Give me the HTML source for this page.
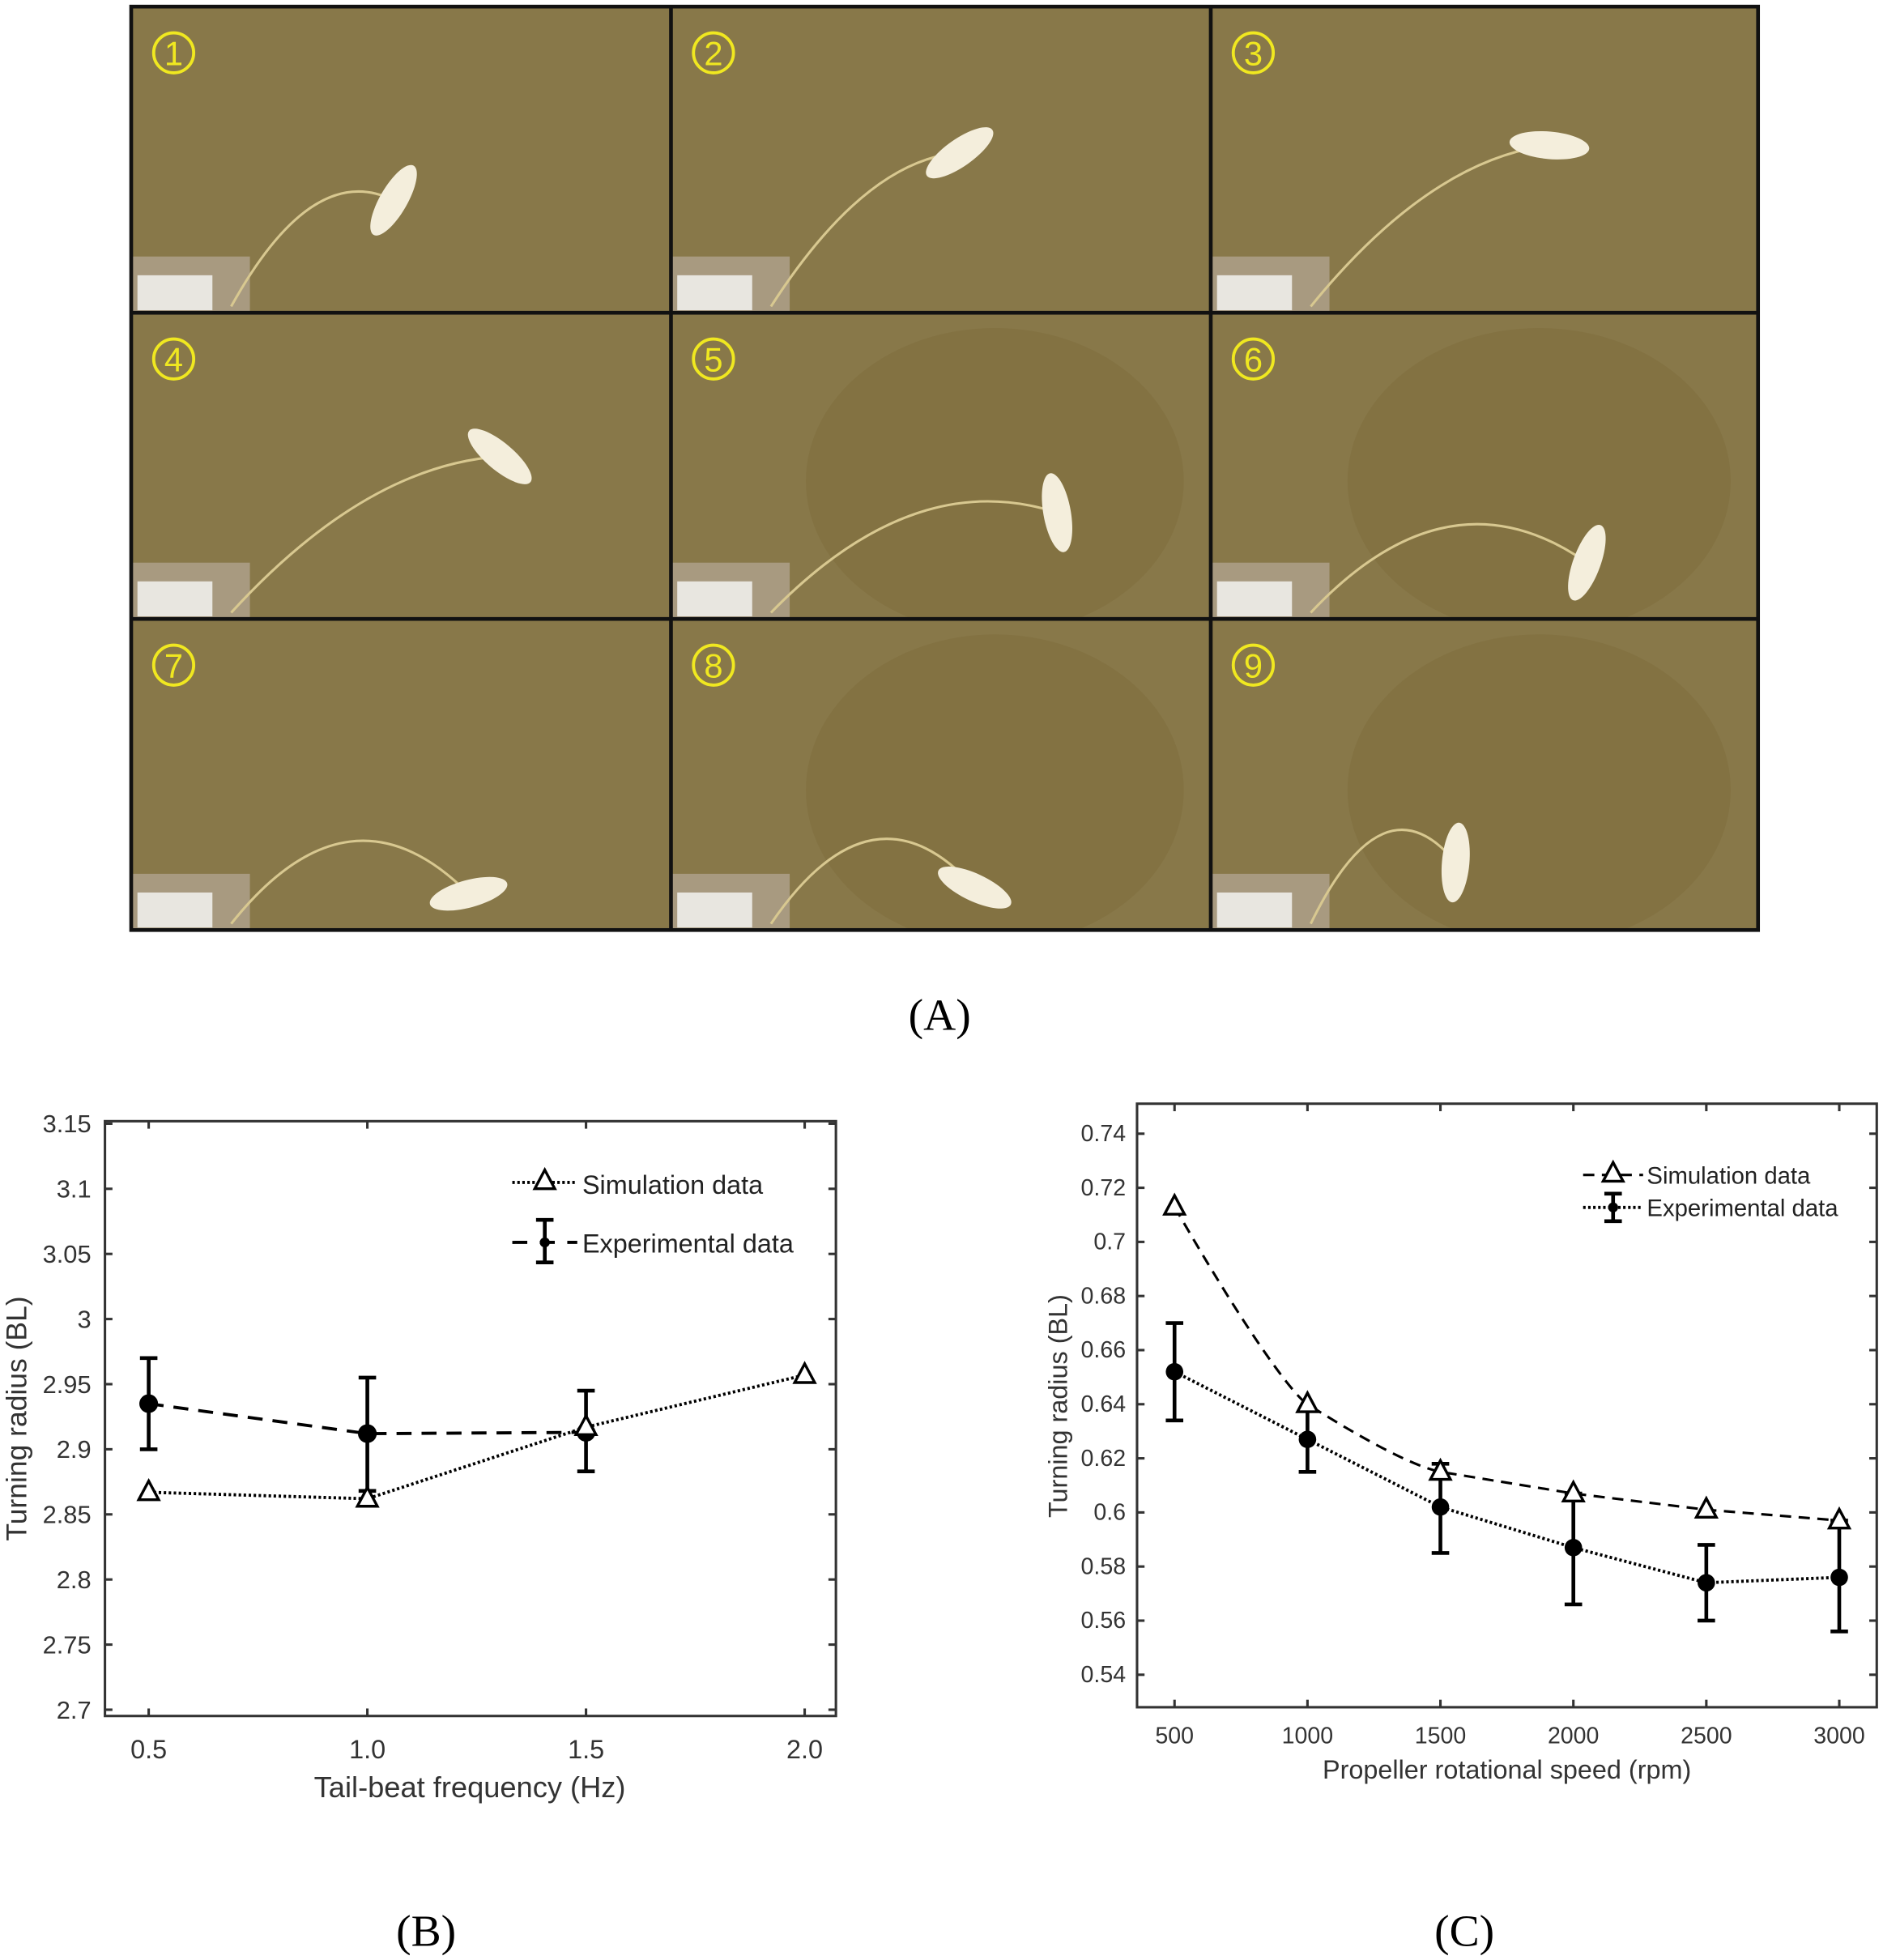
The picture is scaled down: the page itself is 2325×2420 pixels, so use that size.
<!DOCTYPE html>
<html><head><meta charset="utf-8"><style>
html,body{margin:0;padding:0;background:#fff;}
svg{display:block;}
text{font-family:"Liberation Sans",Arial,sans-serif;}
</style></head><body>
<svg id="s" width="2325" height="2420" viewBox="0 0 1507 1568" xmlns="http://www.w3.org/2000/svg">
</svg>
<script>
const s=document.getElementById('s');let h='';
const cx=[105,537,969,1407], ry=[5,250,495,744];
const fish=[[315,160,-60],[768,122,-35],[1240,116,5],[400,365,40],[846,410,80],[1270,450,-70],[375,715,-15],[780,710,25],[1165,690,95]];
let k=0;
for(let r=0;r<3;r++)for(let c=0;c<3;c++){
 const x=cx[c],y=ry[r],w=cx[c+1]-x,hh=ry[r+1]-y;
 h+=`<clipPath id="c${k}"><rect x="${x}" y="${y}" width="${w}" height="${hh}"/></clipPath><g clip-path="url(#c${k})">`;
 h+=`<rect x="${x}" y="${y}" width="${w}" height="${hh}" fill="#887849"/>`;
 if(r>0&&c>0) h+=`<ellipse cx="${x+w*0.6}" cy="${y+hh*0.55}" rx="${w*0.35}" ry="${hh*0.5}" fill="#7d6b3c" opacity="0.5"/>`;
 h+=`<rect x="${x}" y="${y+hh-45}" width="95" height="45" fill="#a89a80"/><rect x="${x+5}" y="${y+hh-30}" width="60" height="28" fill="#e8e6e0"/>`;
 const f=fish[k];
 h+=`<path d="M${x+80} ${y+hh-5} Q${(x+80+f[0])/2} ${y+hh*0.5} ${f[0]} ${f[1]}" stroke="#d8c890" stroke-width="2" fill="none"/>`;
 h+=`<ellipse cx="${f[0]}" cy="${f[1]}" rx="32" ry="11" fill="#f4eedc" transform="rotate(${f[2]} ${f[0]} ${f[1]})"/>`;
 h+=`<circle cx="${x+34}" cy="${y+37}" r="16" fill="none" stroke="#f0e820" stroke-width="2.5"/><text x="${x+34}" y="${y+47}" font-size="27" fill="#f0e820" text-anchor="middle">${k+1}</text></g>`;
 k++;
}
h+=`<g stroke="#111" stroke-width="3" fill="none"><rect x="105" y="5" width="1302" height="739"/>`;
for(const x of [537,969])h+=`<line x1="${x}" y1="5" x2="${x}" y2="744"/>`;
for(const y of [250,495])h+=`<line x1="105" y1="${y}" x2="1407" y2="${y}"/>`;
h+=`</g>`;
h+=`<text x="752" y="824" font-size="36" text-anchor="middle" style="font-family:'Liberation Serif',serif">(A)</text>`;
h+=`<text x="341" y="1557" font-size="36" text-anchor="middle" style="font-family:'Liberation Serif',serif">(B)</text>`;
h+=`<text x="1172" y="1557" font-size="36" text-anchor="middle" style="font-family:'Liberation Serif',serif">(C)</text>`;
function tri(x,y){return `<path d="M${x} ${y-9} L${x+8} ${y+6} L${x-8} ${y+6} Z" fill="#fff" stroke="#000" stroke-width="2.2"/>`;}
function eb(x,y1,y2){return `<line x1="${x}" y1="${y1}" x2="${x}" y2="${y2}" stroke="#000" stroke-width="3"/><line x1="${x-7}" y1="${y1}" x2="${x+7}" y2="${y1}" stroke="#000" stroke-width="3"/><line x1="${x-7}" y1="${y2}" x2="${x+7}" y2="${y2}" stroke="#000" stroke-width="3"/>`;}
{const X=v=>119+(v-0.5)*350, Y=v=>899+(3.15-v)*1042.2;
 h+=`<rect x="84" y="897" width="585" height="476" fill="none" stroke="#333" stroke-width="2"/>`;
 for(let i=0;i<=9;i++){const v=3.15-i*0.05,y=Y(v);h+=`<line x1="84" y1="${y}" x2="90" y2="${y}" stroke="#333" stroke-width="2"/><line x1="669" y1="${y}" x2="663" y2="${y}" stroke="#333" stroke-width="2"/><text x="73" y="${y+7}" font-size="20" fill="#333" text-anchor="end">${+v.toFixed(2)}</text>`;}
 for(const v of [0.5,1,1.5,2]){const x=X(v);h+=`<line x1="${x}" y1="1373" x2="${x}" y2="1367" stroke="#333" stroke-width="2"/><line x1="${x}" y1="897" x2="${x}" y2="903" stroke="#333" stroke-width="2"/><text x="${x}" y="1407" font-size="21" fill="#333" text-anchor="middle">${v.toFixed(1)}</text>`;}
 h+=`<text x="376" y="1438" font-size="23.5" fill="#333" text-anchor="middle">Tail-beat frequency (Hz)</text>`;
 h+=`<text transform="translate(21 1135) rotate(-90)" font-size="23" fill="#333" text-anchor="middle">Turning radius (BL)</text>`;
 const sim=[[0.5,2.867],[1,2.862],[1.5,2.917],[2,2.957]], ex=[[0.5,2.935,2.9,2.97],[1,2.912,2.868,2.955],[1.5,2.913,2.883,2.945]];
 h+=`<polyline points="${ex.map(p=>X(p[0])+','+Y(p[1])).join(' ')}" fill="none" stroke="#000" stroke-width="2.5" stroke-dasharray="12,8"/>`;
 h+=`<polyline points="${sim.map(p=>X(p[0])+','+Y(p[1])).join(' ')}" fill="none" stroke="#000" stroke-width="2.5" stroke-dasharray="2,2"/>`;
 for(const p of ex)h+=eb(X(p[0]),Y(p[3]),Y(p[2]))+`<circle cx="${X(p[0])}" cy="${Y(p[1])}" r="7.5"/>`;
 for(const p of sim)h+=tri(X(p[0]),Y(p[1]));
 h+=`<line x1="410" y1="946" x2="462" y2="946" stroke="#000" stroke-width="2.5" stroke-dasharray="2,2"/>`+tri(436,945);
 h+=`<text x="466" y="955" font-size="21" fill="#222">Simulation data</text>`;
 h+=`<line x1="410" y1="994" x2="462" y2="994" stroke="#000" stroke-width="2.5" stroke-dasharray="12,10"/>`+eb(436,976,1010)+`<circle cx="436" cy="994" r="4"/>`;
 h+=`<text x="466" y="1002" font-size="21" fill="#222">Experimental data</text>`;
}
{const X=v=>940+(v-500)*0.2128, Y=v=>907+(0.74-v)*2165;
 h+=`<rect x="910" y="883" width="592" height="483" fill="none" stroke="#333" stroke-width="2"/>`;
 for(let i=0;i<=10;i++){const v=0.74-i*0.02,y=Y(v);h+=`<line x1="910" y1="${y}" x2="916" y2="${y}" stroke="#333" stroke-width="2"/><line x1="1502" y1="${y}" x2="1496" y2="${y}" stroke="#333" stroke-width="2"/><text x="901" y="${y+6}" font-size="18.5" fill="#333" text-anchor="end">${+v.toFixed(2)}</text>`;}
 for(let v=500;v<=3000;v+=500){const x=X(v);h+=`<line x1="${x}" y1="1366" x2="${x}" y2="1360" stroke="#333" stroke-width="2"/><line x1="${x}" y1="883" x2="${x}" y2="889" stroke="#333" stroke-width="2"/><text x="${x}" y="1395" font-size="18.5" fill="#333" text-anchor="middle">${v}</text>`;}
 h+=`<text x="1206" y="1423" font-size="21" fill="#333" text-anchor="middle">Propeller rotational speed (rpm)</text>`;
 h+=`<text transform="translate(854 1125) rotate(-90)" font-size="21" fill="#333" text-anchor="middle">Turning radius (BL)</text>`;
 const rp=[500,1000,1500,2000,2500,3000], sim=[0.713,0.640,0.615,0.607,0.601,0.597];
 const ex=[[0.652,0.634,0.670],[0.627,0.615,0.638],[0.602,0.585,0.618],[0.587,0.566,0.607],[0.574,0.560,0.588],[0.576,0.556,0.597]];
 h+=`<path d="M${X(500)} ${Y(0.713)} C${X(780)} ${Y(0.665)} ${X(950)} ${Y(0.643)} ${X(1000)} ${Y(0.640)} S${X(1350)} ${Y(0.618)} ${X(1500)} ${Y(0.615)} L${X(2000)} ${Y(0.607)} L${X(2500)} ${Y(0.601)} L${X(3000)} ${Y(0.597)}" fill="none" stroke="#000" stroke-width="2" stroke-dasharray="9,6"/>`;
 h+=`<polyline points="${rp.map((r,i)=>X(r)+','+Y(ex[i][0])).join(' ')}" fill="none" stroke="#000" stroke-width="2.5" stroke-dasharray="2,2"/>`;
 rp.forEach((r,i)=>{h+=eb(X(r),Y(ex[i][2]),Y(ex[i][1]))+`<circle cx="${X(r)}" cy="${Y(ex[i][0])}" r="7"/>`;});
 rp.forEach((r,i)=>{h+=tri(X(r),Y(sim[i]));});
 h+=`<line x1="1267" y1="940" x2="1315" y2="940" stroke="#000" stroke-width="2" stroke-dasharray="9,6"/>`+tri(1291,939);
 h+=`<text x="1318" y="947" font-size="19" fill="#222">Simulation data</text>`;
 h+=`<line x1="1267" y1="966" x2="1315" y2="966" stroke="#000" stroke-width="2.5" stroke-dasharray="2,2"/>`+eb(1291,955,977)+`<circle cx="1291" cy="966" r="4"/>`;
 h+=`<text x="1318" y="973" font-size="19" fill="#222">Experimental data</text>`;
}
s.innerHTML=h;
</script>
</body></html>
